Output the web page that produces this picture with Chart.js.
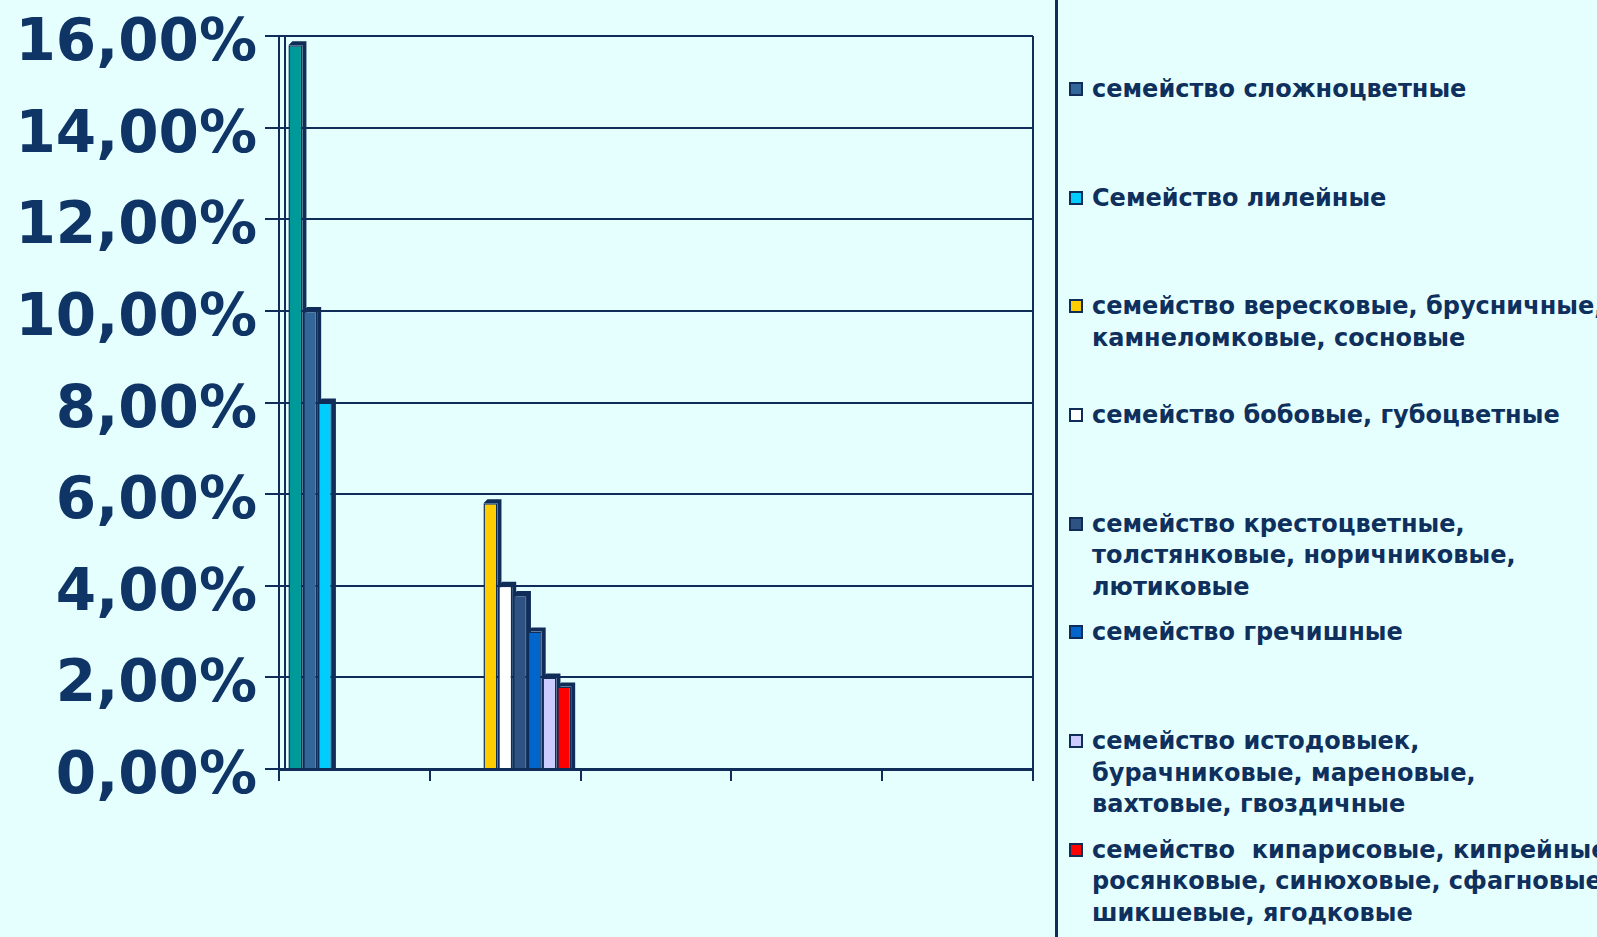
<!DOCTYPE html>
<html>
<head>
<meta charset="utf-8">
<script src="https://cdn.jsdelivr.net/npm/chart.js@4/dist/chart.umd.min.js"></script>
<style>
  body{margin:0;background:#e5ffff;width:1597px;height:937px;overflow:hidden;position:relative;font-family:'DejaVu Sans',sans-serif}
  #wrap{position:absolute;left:0;top:0;width:1040px;height:937px}
  #legendLine{position:absolute;left:1055px;top:0;width:3px;height:937px;background:#102d5a}
  #legend{position:absolute;left:1069px;top:74px;width:560px}
  .item{height:108.7px;position:relative;font-weight:bold;font-size:24px;line-height:31.5px;color:#0f2f5c;white-space:pre;padding-left:23px}
  .box{position:absolute;left:0;top:8px;width:10px;height:10px;border:2px solid #102d5a}
</style>
</head>
<body>
<div id="wrap"><canvas id="chartDisplay"></canvas></div>
<div id="legendLine"></div>
<div id="legend"></div>
<script>
// categories (no labels under the axis)
const categories = ['', '', '', '', ''];
// series names, first one is cut off in the picture
const seriesNames = [
  '',
  'семейство сложноцветные',
  'Семейство лилейные',
  'семейство вересковые, брусничные,\nкамнеломковые, сосновые',
  'семейство бобовые, губоцветные',
  'семейство крестоцветные,\nтолстянковые, норичниковые,\nлютиковые',
  'семейство гречишные',
  'семейство истодовыек,\nбурачниковые, мареновые,\nвахтовые, гвоздичные',
  'семейство  кипарисовые, кипрейные,\nросянковые, синюховые, сфагновые,\nшикшевые, ягодковые'
];
const seriesColors = ['#009999','#336699','#00ccff','#ffcc00','#ffffff','#2e5382','#0066cc','#ccccff','#ff0000'];
// values in % per category
const s0 = [15.8, null, null, null, null];
const s1 = [10, null, null, null, null];
const s2 = [8, null, null, null, null];
const s3 = [null, 5.8, null, null, null];
const s4 = [null, 4, null, null, null];
const s5 = [null, 3.8, null, null, null];
const s6 = [null, 3, null, null, null];
const s7 = [null, 2, null, null, null];
const s8 = [null, 1.8, null, null, null];
const seriesValues = [s0, s1, s2, s3, s4, s5, s6, s7, s8];
const yTickLabels = ['0,00%','2,00%','4,00%','6,00%','8,00%','10,00%','12,00%','14,00%','16,00%'];

const navy = '#102d5a';

// dark side + top of every bar, and the frame of the plot
const depthPlugin = {
  id: 'depth',
  beforeDatasetsDraw(chart){
    const ctx = chart.ctx, a = chart.chartArea, d = 4;
    ctx.save();
    ctx.strokeStyle = navy;
    ctx.lineWidth = 2;
    ctx.beginPath();
    ctx.moveTo(a.right, a.top); ctx.lineTo(a.right, a.bottom);
    ctx.moveTo(a.left + 6, a.top); ctx.lineTo(a.left + 6, a.bottom);
    ctx.stroke();
    ctx.fillStyle = navy;
    chart.data.datasets.forEach((ds, i) => {
      chart.getDatasetMeta(i).data.forEach((bar, j) => {
        if (ds.data[j] == null) return;
        const l = bar.x - bar.width / 2, r = bar.x + bar.width / 2;
        ctx.beginPath();
        ctx.moveTo(l, bar.y);
        ctx.lineTo(l + d, bar.y - d);
        ctx.lineTo(r + d, bar.y - d);
        ctx.lineTo(r + d, bar.base);
        ctx.lineTo(r, bar.base);
        ctx.lineTo(r, bar.y);
        ctx.closePath();
        ctx.fill();
      });
    });
    ctx.restore();
  }
};

let chart = new Chart(document.getElementById('chartDisplay'), {
  type: 'bar',
  data: {
    labels: categories,
    datasets: seriesValues.map((vals, i) => ({
      label: seriesNames[i],
      data: vals,
      backgroundColor: seriesColors[i],
      borderColor: navy,
      borderWidth: 1.5,
      categoryPercentage: 0.88,
      barPercentage: 0.95
    }))
  },
  options: {
    responsive: true,
    maintainAspectRatio: false,
    animation: false,
    layout: { padding: { top: 36, right: 7, bottom: 156, left: 0 } },
    plugins: { legend: { display: false }, tooltip: { enabled: false } },
    scales: {
      x: {
        grid: { drawOnChartArea: false, drawTicks: true, tickLength: 12, color: navy, lineWidth: 2 },
        border: { display: true, color: navy, width: 3 },
        ticks: { display: false }
      },
      y: {
        min: 0,
        max: 16,
        afterFit(scale){ scale.width = 279; },
        grid: { color: navy, lineWidth: 2, tickLength: 14 },
        border: { display: true, color: navy, width: 2 },
        ticks: {
          stepSize: 2,
          padding: 8,
          labelOffset: 9,
          color: '#0f3466',
          font: { family: 'DejaVu Sans', weight: 'bold', size: 58, lineHeight: 0.8 },
          callback: (v, idx) => yTickLabels[idx]
        }
      }
    }
  },
  plugins: [depthPlugin]
});

// legend built from the series arrays
const legend = document.getElementById('legend');
seriesNames.forEach((name, i) => {
  if (!name) return;
  const item = document.createElement('div');
  item.className = 'item';
  const box = document.createElement('span');
  box.className = 'box';
  box.style.background = seriesColors[i];
  item.appendChild(box);
  item.appendChild(document.createTextNode(name));
  legend.appendChild(item);
});
</script>
</body>
</html>
